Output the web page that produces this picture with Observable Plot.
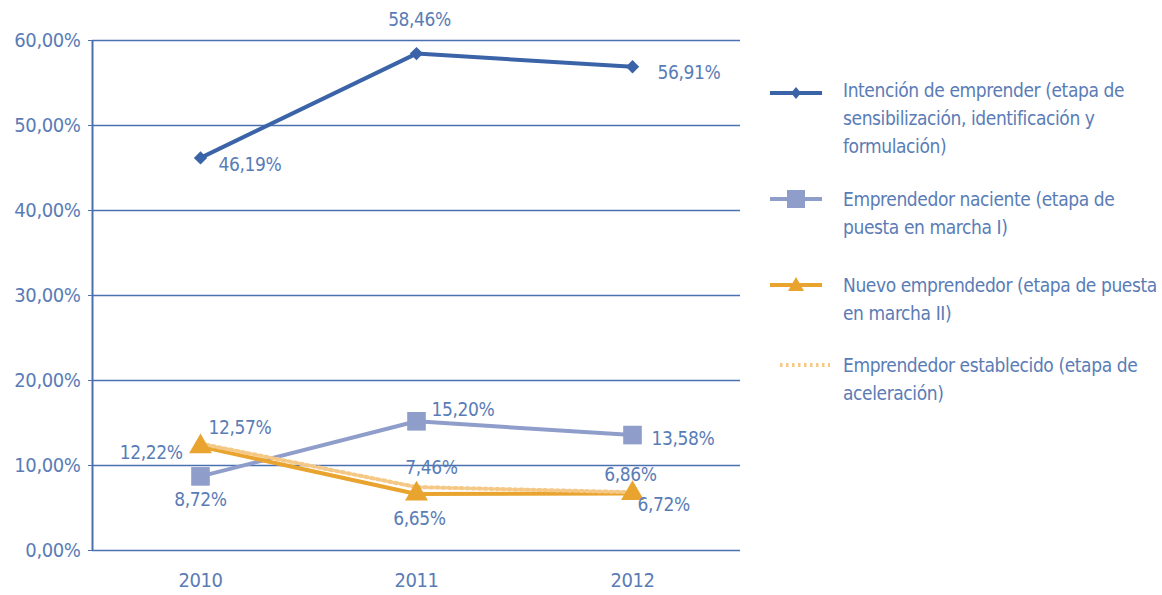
<!DOCTYPE html>
<html>
<head>
<meta charset="utf-8">
<script src="https://cdn.jsdelivr.net/npm/d3@7"></script>
<script src="https://cdn.jsdelivr.net/npm/@observablehq/plot@0.6"></script>
<style>
  html, body { margin: 0; padding: 0; background: #fff; }
  #wrap { position: relative; width: 1162px; height: 595px; font-family: "DejaVu Sans Condensed", "Liberation Sans Narrow", sans-serif; }
  #legend { position: absolute; left: 0; top: 0; width: 1162px; height: 595px; pointer-events: none; }
  .item { position: absolute; left: 770px; width: 392px; }
  .item .txt { position: absolute; left: 73px; color: #5a7cb6; font-size: 19px; letter-spacing: -0.4px; line-height: 28px; white-space: nowrap; }
</style>
</head>
<body>
<div id="wrap"><div id="chart"></div><div id="legend"></div></div>
<script>
// ---- data ----
const years = [2010, 2011, 2012];
const seriesNames = [
  "Intención de emprender (etapa de sensibilización, identificación y formulación)",
  "Emprendedor naciente (etapa de puesta en marcha I)",
  "Nuevo emprendedor (etapa de puesta en marcha II)",
  "Emprendedor establecido (etapa de aceleración)"
];
const intencion = [46.19, 58.46, 56.91];
const naciente = [8.72, 15.20, 13.58];
const nuevo = [12.22, 6.65, 6.72];
const establecido = [12.57, 7.46, 6.86];
const yTicks = [0, 10, 20, 30, 40, 50, 60];
const legendLines = [
  ["Intención de emprender (etapa de", "sensibilización, identificación y", "formulación)"],
  ["Emprendedor naciente (etapa de", "puesta en marcha I)"],
  ["Nuevo emprendedor (etapa de puesta", "en marcha II)"],
  ["Emprendedor establecido (etapa de", "aceleración)"]
];

// ---- styles ----
const FONT = "DejaVu Sans Condensed, Liberation Sans Narrow, sans-serif";
const DARK = "#3a63a8", LIGHT = "#8f9dcb", ORANGE = "#e8a42e", PALE = "#f5c886", TXT = "#5a7cb6", GRID = "#4a70b0";
const fmt = v => v.toFixed(2).replace(".", ",") + "%";
const allValues = [intencion, naciente, nuevo, establecido];
const rows = allValues.flatMap((vals, s) => vals.map((v, i) => ({year: years[i], value: v, s})));
const bySeries = s => rows.filter(d => d.s === s);

// label placement (layout only): [dx, dy, anchor]
const place = [
  [[18, 7, "start"], [3, -34, "middle"], [25, 6, "start"]],
  [[0, 24, "middle"], [15, -11, "start"], [19, 4, "start"]],
  [[-18, 6, "end"], [3, 25, "middle"], [5, 12, "start"]],
  [[8, -16, "start"], [15, -19, "middle"], [-2, -17, "middle"]]
];
const labelMarks = rows.map(d => {
  const [dx, dy, anchor] = place[d.s][years.indexOf(d.year)];
  return Plot.text([d], {x: "year", y: "value", text: r => fmt(r.value), dx, dy, textAnchor: anchor,
    fill: TXT, fontSize: 19, fontFamily: FONT, letterSpacing: -0.4});
});

const chart = Plot.plot({
  width: 1162,
  height: 595,
  marginLeft: 92,
  marginRight: 422,
  marginTop: 40,
  marginBottom: 45,
  style: {fontFamily: FONT, fontSize: "19px", color: TXT, background: "#fff", letterSpacing: "-0.4px"},
  x: {type: "point", domain: years, padding: 0.5, label: null},
  y: {domain: [0, 60], label: null},
  marks: [
    Plot.ruleY(yTicks, {stroke: GRID, strokeWidth: 1.6}),
    Plot.ruleX([years[0]], {dx: -108, y1: 0, y2: 60, stroke: GRID, strokeWidth: 2}),
    Plot.axisY({ticks: yTicks, tickFormat: fmt, tickSize: 4, tickPadding: 8, stroke: GRID, fill: TXT, fontSize: 20, label: null}),
    Plot.axisX({tickSize: 0, tickPadding: 22, tickFormat: d => String(d), fill: TXT, fontSize: 20, label: null}),
    Plot.line(bySeries(1), {x: "year", y: "value", stroke: LIGHT, strokeWidth: 4}),
    Plot.line(bySeries(2), {x: "year", y: "value", stroke: ORANGE, strokeWidth: 4}),
    Plot.line(bySeries(3), {x: "year", y: "value", stroke: PALE, strokeWidth: 4, strokeDasharray: "2.5,3.5"}),
    Plot.line(bySeries(0), {x: "year", y: "value", stroke: DARK, strokeWidth: 4}),
    Plot.dot(bySeries(1), {x: "year", y: "value", symbol: "square", r: 10.5, fill: LIGHT}),
    Plot.dot(bySeries(2), {x: "year", y: "value", symbol: "triangle", r: 8.5, fill: ORANGE}),
    Plot.dot(bySeries(0), {x: "year", y: "value", symbol: "diamond2", r: 6, fill: DARK}),
    ...labelMarks
  ]
});
document.getElementById("chart").appendChild(chart);

// ---- legend ----
const legendTops = [76, 185, 271, 351];
const legend = document.getElementById("legend");
const swatches = [
  `<svg width="60" height="20"><line x1="0" y1="10" x2="52" y2="10" stroke="${DARK}" stroke-width="4"/><path d="M26,4 L31,10 L26,16 L21,10Z" fill="${DARK}"/></svg>`,
  `<svg width="60" height="20"><line x1="0" y1="10" x2="52" y2="10" stroke="${LIGHT}" stroke-width="4"/><rect x="17" y="1" width="18" height="18" fill="${LIGHT}"/></svg>`,
  `<svg width="60" height="20"><line x1="0" y1="10" x2="52" y2="10" stroke="${ORANGE}" stroke-width="4"/><path d="M26,2 L34,16 L18,16Z" fill="${ORANGE}"/></svg>`,
  `<svg width="60" height="20"><line x1="10" y1="10" x2="60" y2="10" stroke="${PALE}" stroke-width="4" stroke-dasharray="2.5,3.5"/></svg>`
];
legendLines.forEach((lines, i) => {
  const div = document.createElement("div");
  div.className = "item";
  div.style.top = legendTops[i] + "px";
  div.title = seriesNames[i];
  div.innerHTML = `<div style="position:absolute;top:${i===0?7:4}px;left:0">${swatches[i]}</div><div class="txt">${lines.join("<br>")}</div>`;
  legend.appendChild(div);
});
</script>
</body>
</html>
